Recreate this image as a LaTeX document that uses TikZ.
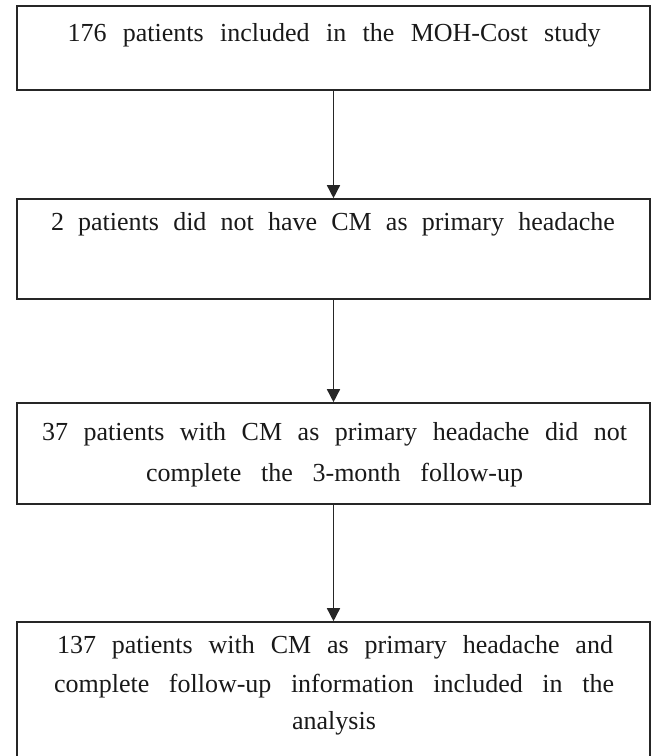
\documentclass[tikz,border=0pt]{standalone}
\usepackage{fontspec}
\setmainfont{Liberation Serif}
\usetikzlibrary{arrows.meta}
\tikzset{
  flowbox/.style={draw=black!85, line width=1.6pt, minimum width=633pt, inner sep=0pt},
  txt/.style={anchor=base, inner sep=0pt, text=black!90, font=\fontsize{26}{32}\selectfont},
  conn/.style={draw=black!85, line width=1.5pt, -{Triangle[length=13pt,width=13pt]}}
}
\begin{document}
\begin{tikzpicture}[x=1pt,y=1pt]
\useasboundingbox (0,0) rectangle (651,-756);
\fill[white] (0,0) rectangle (651,-756);
% boxes
\node[flowbox, minimum height=84pt] (b1) at (333.5,-48) {};
\node[flowbox, minimum height=100pt] (b2) at (333.5,-249) {};
\node[flowbox, minimum height=101pt] (b3) at (333.5,-453.5) {};
\node[flowbox, minimum height=136pt] (b4) at (333.5,-690) {};
% texts
\node[txt] (t1) at (334,-41) {\makebox[533pt][s]{176 patients included in the MOH-Cost study}};
\node[txt] (t2) at (333,-230) {\makebox[564pt][s]{2 patients did not have CM as primary headache}};
\node[txt] (t3a) at (334.5,-440) {\makebox[585pt][s]{37 patients with CM as primary headache did not}};
\node[txt] (t3b) at (334.5,-481) {\makebox[377pt][s]{complete the 3-month follow-up}};
\node[txt] (t4a) at (335,-653) {\makebox[556pt][s]{137 patients with CM as primary headache and}};
\node[txt] (t4b) at (334,-692) {\makebox[560pt][s]{complete follow-up information included in the}};
\node[txt] (t4c) at (334,-729) {analysis};
% connectors
\draw[conn] (b1.south) -- (b2.north);
\draw[conn] (b2.south) -- (b3.north);
\draw[conn] (b3.south) -- (b4.north);
\end{tikzpicture}
\end{document}
